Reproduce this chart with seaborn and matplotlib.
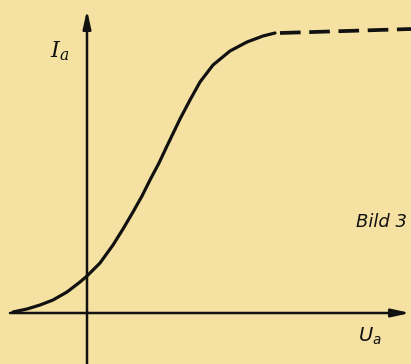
import seaborn as sns
import matplotlib.pyplot as plt
import pandas as pd

u_solid = [-74, -60, -47, -34, -20, -7, 0, 13, 26, 36, 46, 55, 63, 72, 80, 93, 103,
           113, 126, 143, 160, 176, 188]
i_solid = [1, 4, 8, 13, 21, 31, 37, 50, 68, 84, 101, 117, 133, 150, 167, 194, 213,
           231, 248, 262, 271, 277, 280]
u_dash = [193, 324]
i_dash = [280, 284]

x_range = [-87, 324]
y_range = [-51, 313]

bg = '#F5E2A3'
ink = '#111111'

sns.set_theme(style='white')

fig = plt.figure(figsize=(4.11, 3.64), dpi=100)
fig.patch.set_facecolor(bg)
ax = fig.add_axes([0, 0, 1, 1])
ax.set_facecolor(bg)

df_solid = pd.DataFrame({'Ua': u_solid, 'Ia': i_solid})
df_dash = pd.DataFrame({'Ua': u_dash, 'Ia': i_dash})

sns.lineplot(data=df_solid, x='Ua', y='Ia', color=ink, linewidth=2.3, sort=False,
             solid_joinstyle='round', solid_capstyle='round', ax=ax)
sns.lineplot(data=df_dash, x='Ua', y='Ia', color=ink, linewidth=2.7, sort=False,
             linestyle=(0, (5.5, 2.3)), ax=ax)

# Achsen mit Pfeilen
arrow = dict(arrowstyle='-|>,head_length=0.9,head_width=0.2', color=ink, lw=1.8,
             mutation_scale=12, shrinkA=0, shrinkB=0)
ax.annotate('', xy=(0, 303), xytext=(0, -51), arrowprops=arrow)
ax.annotate('', xy=(323, 0), xytext=(-77, 0), arrowprops=arrow)

ax.text(-37, 256, r'$I_a$', fontsize=16, color=ink, math_fontfamily='dejavuserif',
        ha='left', va='baseline')
ax.text(271, -29, r'$U_a$', fontsize=14, color=ink, math_fontfamily='dejavusans',
        ha='left', va='baseline')
ax.text(269, 86, 'Bild 3', fontsize=13, color=ink, style='italic',
        family=['Liberation Sans Narrow', 'DejaVu Sans'], ha='left', va='baseline')

ax.set_xlim(x_range)
ax.set_ylim(y_range)
ax.set_xlabel('')
ax.set_ylabel('')
ax.axis('off')

plt.savefig('out.png', dpi=100, facecolor=bg)
